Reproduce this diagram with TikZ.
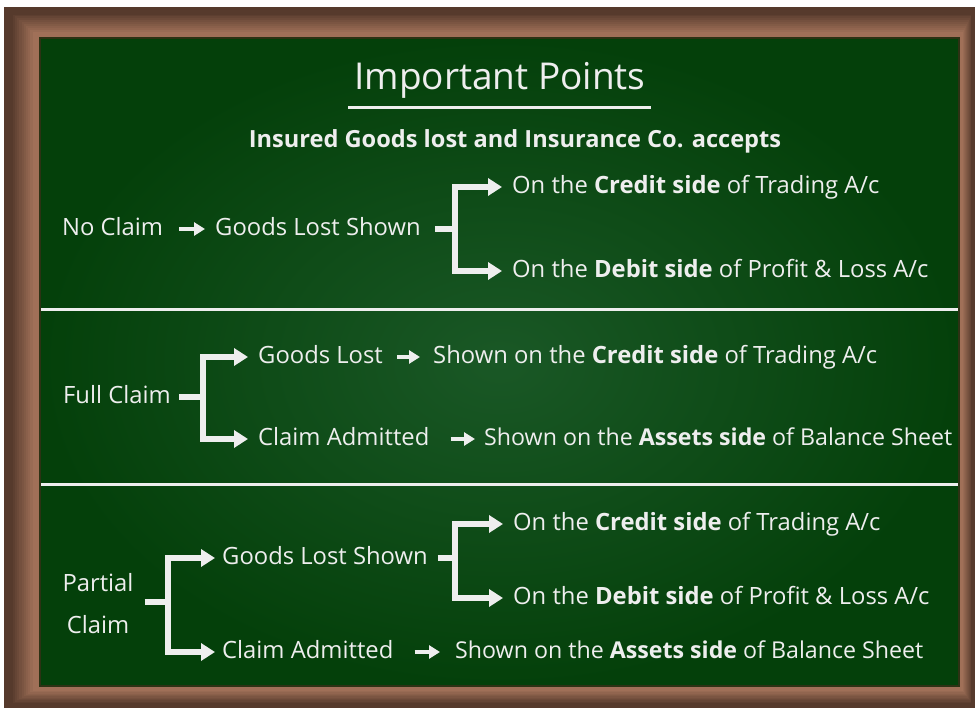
\documentclass[tikz,border=0pt]{standalone}
\usepackage{fontspec}
\setmainfont{Open Sans}
\usetikzlibrary{arrows.meta}
\definecolor{chalk}{HTML}{EEEEEE}
\definecolor{brD}{RGB}{86,58,44}
\definecolor{brL}{RGB}{160,112,88}
\definecolor{grIn}{RGB}{26,88,38}
\definecolor{grOut}{RGB}{4,64,10}
\definecolor{edge}{RGB}{45,50,20}
\begin{document}
\begin{tikzpicture}[x=1pt,y=-1pt,
  txt/.style={text=chalk, font=\fontsize{23.8}{28}\selectfont, inner sep=0pt, anchor=west, text height=18pt, text depth=5.5pt},
  longtxt/.style={txt, font=\fontsize{23.2}{28}\selectfont},
  bigarrow/.style={draw=chalk, line width=6pt, line join=miter, -{Triangle[width=17pt,length=14pt]}},
  stem/.style={draw=chalk, line width=6pt},
  smallarrow/.style={draw=chalk, line width=4pt, -{Triangle[width=13pt,length=11pt]}},
  divider/.style={draw=chalk, line width=3pt}]
\useasboundingbox (0,0) rectangle (975,708);
\fill[white] (0,0) rectangle (975,708);
% frame
\foreach \i in {0,...,15}{
  \pgfmathtruncatemacro\p{min(100,100*max(0,\i-3)/10)}
  \fill[brL!\p!brD] (4+\i*2.2,7+\i*1.9) rectangle (975-\i*0.9,708-\i*1.3);
}
% board
\shade[inner color=grIn, outer color=grOut] (40,38) rectangle (959,686);
\draw[edge, line width=1.2pt] (40,38) rectangle (959,686);
% dividers
\draw[divider] (41,310) -- (958,310);
\draw[divider] (41,485) -- (958,485);
% title
\node[text=chalk, font=\fontsize{37}{40}\selectfont, inner sep=0pt, anchor=base] (title) at (500,90) {Important Points};
\draw[draw=chalk, line width=3pt] (348,108) -- (651,108);
\node[text=chalk, font=\bfseries\fontsize{23.6}{26}\selectfont, inner sep=0pt, anchor=base] (sub) at (515,148) {Insured Goods lost and Insurance Co. accepts};
% section 1
\node[txt] (nc) at (62,229) {No Claim};
\node[txt] (gls1) at (215,229) {Goods Lost Shown};
\coordinate (j1) at (455,229);
\node[txt] (c1) at (512,187) {On the \textbf{Credit side} of Trading A/c};
\node[txt] (d1) at (512,271) {On the \textbf{Debit side} of Profit \& Loss A/c};
\draw[smallarrow, shorten <=16pt, shorten >=10pt] (nc) -- (gls1);
\draw[stem, shorten <=14pt] (gls1.east) -- (j1);
\draw[bigarrow, shorten >=10pt] (j1) |- (c1.west);
\draw[bigarrow, shorten >=10pt] (j1) |- (d1.west);
% section 2
\node[txt] (fc) at (63,397) {Full Claim};
\coordinate (j2) at (203,397);
\node[txt] (gl2) at (258,357) {Goods Lost};
\node[txt] (sh2) at (433,357) {Shown on the \textbf{Credit side} of Trading A/c};
\node[txt] (ca2) at (258,439) {Claim Admitted};
\node[longtxt] (as2) at (484,439) {Shown on the \textbf{Assets side} of Balance Sheet};
\draw[stem, shorten <=8pt] (fc.east) -- (j2);
\draw[bigarrow, shorten >=10pt] (j2) |- (gl2.west);
\draw[bigarrow, shorten >=10pt] (j2) |- (ca2.west);
\draw[smallarrow, shorten <=14pt, shorten >=13pt] (gl2) -- (sh2);
\draw[smallarrow, shorten <=21pt, shorten >=9pt] (ca2) -- (as2);
% section 3
\node[text=chalk, font=\fontsize{23.8}{42}\selectfont, inner sep=0pt, align=center] (pc) at (98,604) {Partial\\Claim};
\coordinate (j3) at (168,602);
\node[txt] (gl3) at (222,558) {Goods Lost Shown};
\node[txt] (ca3) at (222,652) {Claim Admitted};
\coordinate (j4) at (455,558);
\node[txt] (c3) at (513,524) {On the \textbf{Credit side} of Trading A/c};
\node[txt] (d3) at (513,598) {On the \textbf{Debit side} of Profit \& Loss A/c};
\node[longtxt] (sh3) at (455,652) {Shown on the \textbf{Assets side} of Balance Sheet};
\draw[stem, shorten <=11pt] (pc.east |- j3) -- (j3);
\draw[bigarrow, shorten >=7pt] (j3) |- (gl3.west);
\draw[bigarrow, shorten >=7pt] (j3) |- (ca3.west);
\draw[stem, shorten <=10pt] (gl3.east) -- (j4);
\draw[bigarrow, shorten >=10pt] (j4) |- (c3.west);
\draw[bigarrow, shorten >=10pt] (j4) |- (d3.west);
\draw[smallarrow, shorten <=21pt, shorten >=15pt] (ca3) -- (sh3);
\end{tikzpicture}
\end{document}
